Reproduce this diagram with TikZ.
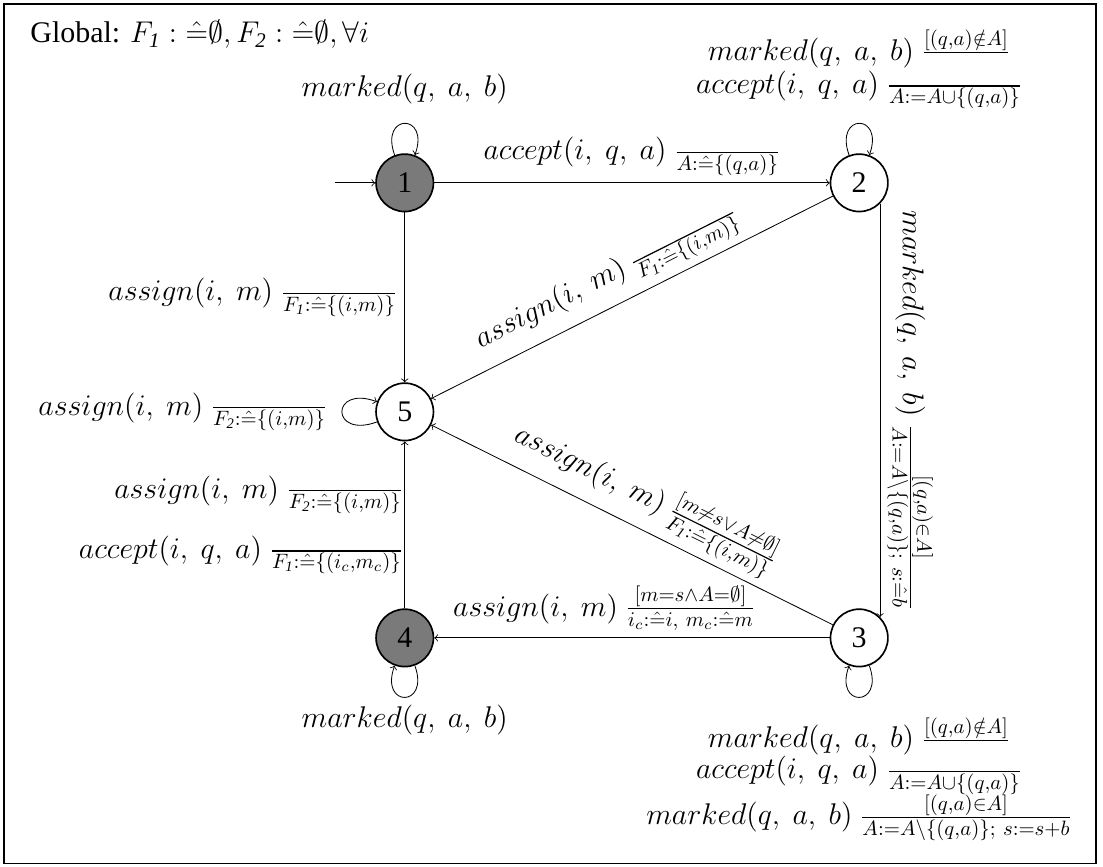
\documentclass[tikz,border=0pt]{standalone}
\usepackage{amsmath}
\usepackage{fontspec}
\setmainfont{Liberation Serif}
\usepackage{tikz}
\newcommand{\hatdef}{\hat{=}}
\newcommand{\tightlines}{\lineskiplimit=-50pt\relax}
\begin{document}
\begin{tikzpicture}[loc/.style={circle,draw,thick,minimum size=9.7mm,inner sep=0pt,font=\Large},lbl/.style={font=\Large},stack/.style={align=center,font=\Large\tightlines},lp/.style={min distance=7.6mm,max distance=7.6mm,loop}]
	\useasboundingbox (0,0) rectangle (18.64,-14.64);
	\draw[line width=0.7pt] (0.07,-0.07) rectangle (18.52,-14.59);
	\node[anchor=west,font=\Large] (glob) at (0.39,-0.58) {Global: $F_{\mathit{1}}:\hatdef\emptyset, F_{\mathit{2}}:\hatdef\emptyset, \forall i$};
	\node[loc,fill=black!52] (n1) at (6.84,-3.09) {1};
	\node[loc] (n2) at (14.52,-3.09) {2};
	\node[loc] (n3) at (14.52,-10.78) {3};
	\node[loc,fill=black!52] (n4) at (6.84,-10.78) {4};
	\node[loc] (n5) at (6.84,-6.96) {5};
	\coordinate (init) at (5.66,-3.09);
	\draw[->] (init) -- (n1);
	\draw[->] (n1) to[out=110,in=70,lp] node[lbl,above=0.2cm] {$marked(q,\ a,\ b)$} (n1);
	\draw[->] (n2) to[out=110,in=70,lp] node[stack,above=0.12cm] {$marked(q,\ a,\ b)\ \frac{[(q,a)\notin A]}{}$\\[-2.1pt]$accept(i,\ q,\ a)\ \frac{}{A:=A\cup\{(q,a)\}}$} (n2);
	\draw[->] (n5) to[out=200,in=160,lp,min distance=8.4mm,max distance=8.4mm] node[lbl,left=0.12cm] {$assign(i,\ m)\ \frac{}{F_{\mathit{2}}:\hatdef\{(i,m)\}}$} (n5);
	\draw[->] (n4) to[out=-70,in=-110,lp] node[lbl,below] {$marked(q,\ a,\ b)$} (n4);
	\draw[->] (n3) to[out=-70,in=-110,lp] node[stack,below=0.22cm] {$marked(q,\ a,\ b)\ \frac{[(q,a)\notin A]}{}$\\[-3pt]$accept(i,\ q,\ a)\ \frac{}{A:=A\cup\{(q,a)\}}$\\[4pt]$marked(q,\ a,\ b)\ \frac{[(q,a)\in A]}{A:=A\setminus\{(q,a)\};\ s:=s+b}$} (n3);
	\draw[->] (n1) -- node[lbl,above] {$accept(i,\ q,\ a)\ \frac{}{A:\hatdef\{(q,a)\}}$} (n2);
	\draw[->] (n1) -- node[lbl,left] {$assign(i,\ m)\ \frac{}{F_{\mathit{1}}:\hatdef\{(i,m)\}}$} (n5);
	\draw[->] (n2) -- node[lbl,sloped,above,pos=0.53] {$assign(i,\ m)\ \frac{}{F_{\mathit{1}}:\hatdef\{(i,m)\}}$} (n5);
	\draw[->] (n2.-45) -- node[lbl,sloped,above] {$marked(q,\ a,\ b)\ \frac{[(q,a)\in A]}{A:=A\setminus\{(q,a)\};\ s:\hatdef b}$} (n3.45);
	\draw[->] (n3) -- node[lbl,sloped,above] {$assign(i,\ m)\ \frac{[m\neq s\vee A\neq\emptyset]}{F_{\mathit{1}}:\hatdef\{(i,m)\}}$} (n5);
	\draw[->] (n3) -- node[lbl,above,pos=0.57] {$assign(i,\ m)\ \frac{[m=s\wedge A=\emptyset]}{i_c:\hatdef i,\ m_c:\hatdef m}$} (n4);
	\draw[->] (n4) -- node[lbl,left,pos=0.32,inner sep=0.5pt] {$accept(i,\ q,\ a)\ \frac{}{F_{\mathit{1}}:\hatdef\{(i_c,m_c)\}}$} node[lbl,left,pos=0.68,inner sep=0.5pt] {$assign(i,\ m)\ \frac{}{F_{\mathit{2}}:\hatdef\{(i,m)\}}$} (n5);
\end{tikzpicture}
\end{document}
